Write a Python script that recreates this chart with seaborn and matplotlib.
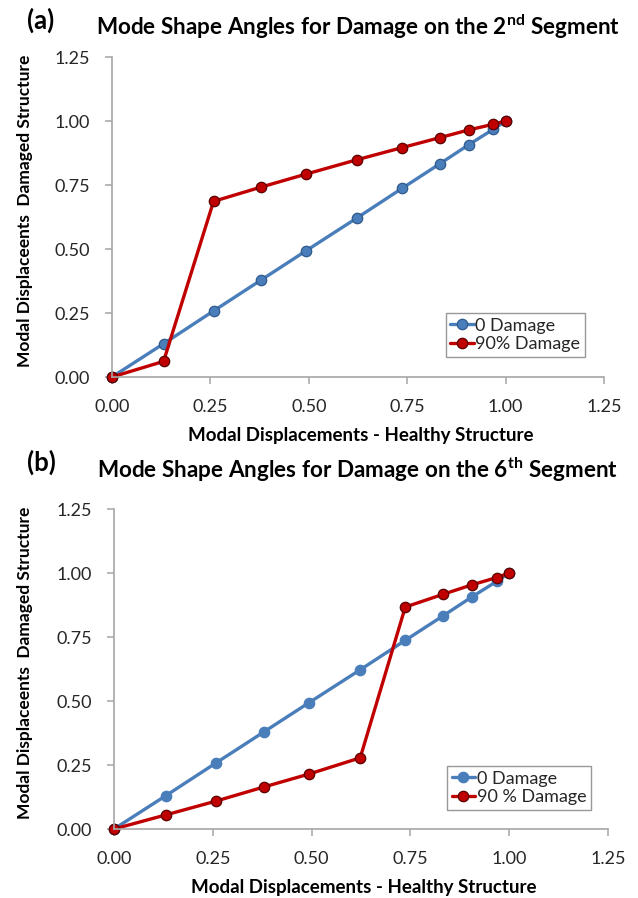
import matplotlib
matplotlib.use("Agg")
import matplotlib.pyplot as plt
import seaborn as sns
import pandas as pd

# ---- data ----
healthy = [0.0, 0.131, 0.258, 0.379, 0.494, 0.623, 0.737, 0.833, 0.906, 0.968, 1.0]
no_damage = [0.0, 0.130, 0.258, 0.379, 0.494, 0.622, 0.737, 0.833, 0.907, 0.967, 1.0]
dmg_seg2 = [0.0, 0.061, 0.686, 0.742, 0.793, 0.849, 0.896, 0.935, 0.965, 0.987, 1.0]
dmg_seg6 = [0.0, 0.055, 0.109, 0.164, 0.215, 0.278, 0.867, 0.917, 0.954, 0.982, 1.0]

ticks = [0.0, 0.25, 0.5, 0.75, 1.0, 1.25]
tick_labels = ["0.00", "0.25", "0.50", "0.75", "1.00", "1.25"]

panels = [
    dict(tag="(a)", title=r"Mode Shape Angles for Damage on the 2$^{\mathbf{nd}}$ Segment",
         damaged=dmg_seg2, dmg_label="90% Damage", blue_edge=True),
    dict(tag="(b)", title=r"Mode Shape Angles for Damage on the 6$^{\mathbf{th}}$ Segment",
         damaged=dmg_seg6, dmg_label="90 % Damage", blue_edge=False),
]

sns.set_style("white")
plt.rcParams["font.family"] = ["Lato", "DejaVu Sans"]
plt.rcParams["mathtext.fontset"] = "custom"
plt.rcParams["mathtext.rm"] = "Lato"
plt.rcParams["mathtext.bf"] = "Lato:bold"

BLUE = "#4A7EBB"
BLUE_EDGE = "#2F5A8C"
RED = "#C00000"
RED_EDGE = "#5A0000"
GRAY = "#A6A6A6"
TXT = "#262626"

W, H = 638, 898
fig = plt.figure(figsize=(W / 100, H / 100), dpi=100)
# axes boxes in pixels: left, right(1.25), top(1.25), bottom(0)
boxes = [(112, 604, 57, 377), (114, 608, 509, 829)]
title_y = [27, 470]
tag_y = [20, 462]
leg_pos = [(585, 357), (591, 810)]

for p, (l, r, t, b), ty, gy, (lx, ly) in zip(panels, boxes, title_y, tag_y, leg_pos):
    aw, ah = r - l, b - t
    ax = fig.add_axes([l / W, 1 - b / H, aw / W, ah / H])
    df0 = pd.DataFrame({"x": healthy, "y": no_damage})
    df1 = pd.DataFrame({"x": healthy, "y": p["damaged"]})
    sns.lineplot(data=df0, x="x", y="y", ax=ax, sort=False, color=BLUE, lw=2.4,
                 marker="o", markersize=7.5, markerfacecolor=BLUE,
                 markeredgecolor=BLUE_EDGE if p["blue_edge"] else BLUE,
                 markeredgewidth=0.9, label="0 Damage", clip_on=False)
    sns.lineplot(data=df1, x="x", y="y", ax=ax, sort=False, color=RED, lw=2.4,
                 marker="o", markersize=7.5, markerfacecolor=RED,
                 markeredgecolor=RED_EDGE, markeredgewidth=0.9, label=p["dmg_label"],
                 clip_on=False)
    ax.set_xlim(0, 1.25)
    ax.set_ylim(0, 1.25)
    ax.set_xticks(ticks)
    ax.set_xticklabels(tick_labels)
    ax.set_yticks(ticks)
    ax.set_yticklabels(tick_labels)
    for s in ["top", "right"]:
        ax.spines[s].set_visible(False)
    for s in ["left", "bottom"]:
        ax.spines[s].set_color(GRAY)
        ax.spines[s].set_linewidth(1.2)
    ax.tick_params(axis="both", which="major", direction="out", length=5, width=1.1,
                   color=GRAY, labelsize=13, labelcolor=TXT,
                   bottom=True, left=True)
    ax.tick_params(axis="x", pad=11)
    ax.tick_params(axis="y", pad=11)
    ax.set_xlabel("Modal Displacements - Healthy Structure", fontsize=13.5,
                  fontweight="bold", color="black")
    ax.xaxis.label.set_va("center")
    ax.xaxis.set_label_coords(0.505, -58 / ah)
    ax.set_ylabel("Modal Displaceents  Damaged Structure", fontsize=12.5,
                  fontweight="bold", color="black")
    ax.yaxis.label.set_va("center")
    ax.yaxis.set_label_coords(-(l - 25) / aw, 0.52)
    leg = ax.legend(loc="lower right",
                    bbox_to_anchor=((lx - l) / aw, (b - ly) / ah), frameon=True,
                    fancybox=False, fontsize=13, handlelength=1.3, handletextpad=0.1,
                    borderpad=0.25, labelspacing=0.15, borderaxespad=0.0)
    leg.get_frame().set_edgecolor("#7F7F7F")
    leg.get_frame().set_linewidth(1.0)
    for tx in leg.get_texts():
        tx.set_color(TXT)
    fig.text(358 / W, 1 - ty / H, p["title"], ha="center", va="center", fontsize=16.2,
             fontweight="bold", color="black")
    fig.text(27 / W, 1 - gy / H, p["tag"], ha="left", va="center", fontsize=18.5,
             fontweight="bold", color="black")

fig.savefig("out.png", dpi=100)
